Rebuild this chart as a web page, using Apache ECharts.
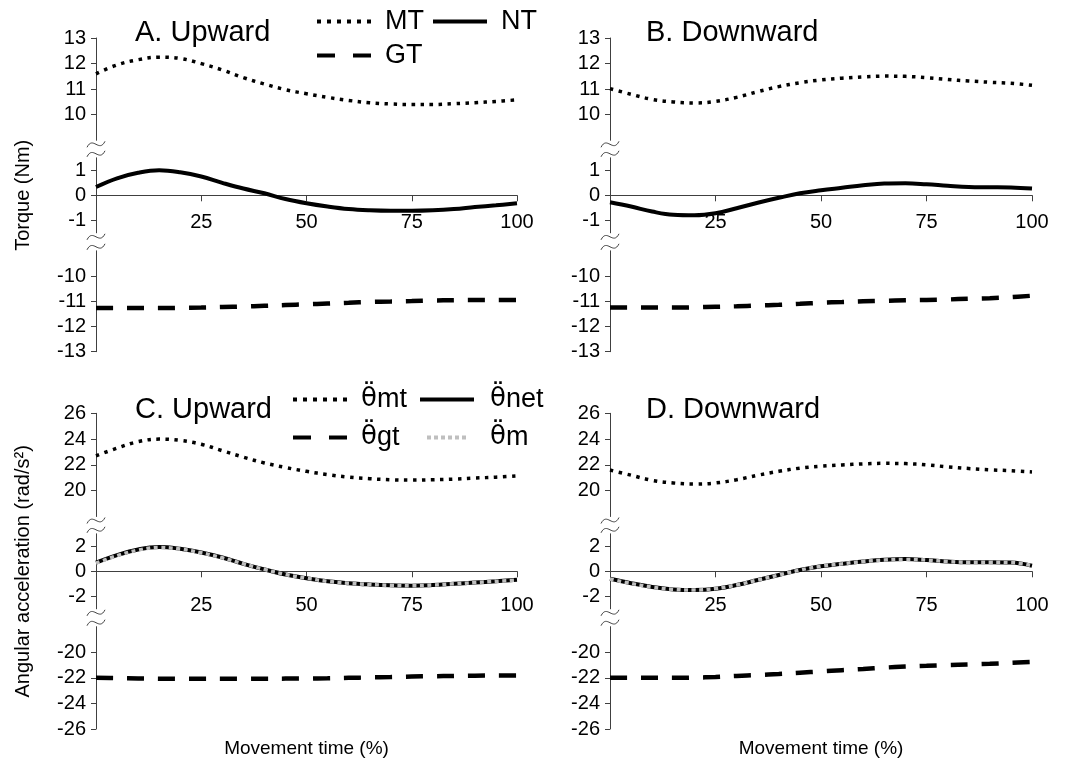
<!DOCTYPE html>
<html><head><meta charset="utf-8">
<script src="https://cdn.jsdelivr.net/npm/echarts@6/dist/echarts.min.js"></script>
<style>html,body{margin:0;padding:0;background:#fff}#c{width:1071px;height:761px}</style>
</head><body><div id="c"></div>
<script>
// ---- data ----
const xPct = [0,5,10,15,20,25,30,35,40,45,50,55,60,65,70,75,80,85,90,95,100];
const xTicks = [25,50,75,100];
const torqueTopTicks = [10,11,12,13];
const torqueMidTicks = [-1,0,1];
const torqueBotTicks = [-13,-12,-11,-10];
const accTopTicks = [20,22,24,26];
const accMidTicks = [-2,0,2];
const accBotTicks = [-26,-24,-22,-20];

const mtUp = [11.6,11.95,12.15,12.25,12.2,12.0,11.75,11.45,11.2,10.98,10.82,10.68,10.56,10.47,10.42,10.4,10.4,10.43,10.47,10.52,10.58];
const ntUp = [0.33,0.68,0.9,1.0,0.92,0.75,0.5,0.27,0.08,-0.15,-0.32,-0.45,-0.55,-0.6,-0.62,-0.62,-0.6,-0.55,-0.47,-0.4,-0.32];
const gtUp = [-11.27,-11.27,-11.27,-11.27,-11.26,-11.25,-11.23,-11.21,-11.18,-11.15,-11.12,-11.09,-11.06,-11.03,-11.01,-10.99,-10.97,-10.96,-10.95,-10.95,-10.95];

const mtDown = [11.02,10.8,10.6,10.5,10.46,10.52,10.68,10.9,11.1,11.25,11.36,11.43,11.48,11.51,11.5,11.45,11.38,11.32,11.27,11.23,11.15];
const ntDown = [-0.28,-0.45,-0.65,-0.78,-0.8,-0.72,-0.52,-0.3,-0.1,0.08,0.2,0.3,0.4,0.47,0.48,0.44,0.38,0.33,0.32,0.31,0.27];
const gtDown = [-11.25,-11.25,-11.25,-11.25,-11.24,-11.22,-11.2,-11.17,-11.14,-11.1,-11.06,-11.03,-11.0,-10.98,-10.96,-10.95,-10.93,-10.9,-10.88,-10.84,-10.78];

const accMtUp = [22.7,23.3,23.8,24.0,23.9,23.6,23.1,22.6,22.15,21.8,21.5,21.25,21.05,20.93,20.85,20.82,20.85,20.9,20.98,21.05,21.15];
const accNetUp = [0.7,1.3,1.75,1.95,1.8,1.5,1.1,0.6,0.15,-0.25,-0.55,-0.8,-0.95,-1.05,-1.12,-1.15,-1.1,-1.0,-0.9,-0.8,-0.68];
const accGtUp = [-22.0,-22.02,-22.05,-22.07,-22.08,-22.08,-22.08,-22.08,-22.07,-22.06,-22.05,-22.03,-22.0,-21.97,-21.94,-21.9,-21.87,-21.85,-21.83,-21.82,-21.82];
const accMUp = [0.65,1.25,1.7,1.9,1.78,1.48,1.08,0.6,0.15,-0.25,-0.55,-0.8,-0.95,-1.05,-1.12,-1.15,-1.1,-1.0,-0.9,-0.8,-0.7];

const accMtDown = [21.6,21.2,20.8,20.6,20.52,20.6,20.85,21.2,21.5,21.75,21.9,22.0,22.08,22.12,22.1,22.0,21.85,21.72,21.62,21.55,21.45];
const accNetDown = [-0.6,-0.95,-1.25,-1.45,-1.5,-1.4,-1.1,-0.7,-0.3,0.1,0.4,0.6,0.78,0.92,0.98,0.9,0.78,0.72,0.72,0.7,0.45];
const accGtDown = [-22.0,-22.0,-22.0,-22.0,-21.98,-21.93,-21.85,-21.78,-21.7,-21.6,-21.5,-21.4,-21.3,-21.2,-21.12,-21.06,-21.0,-20.95,-20.9,-20.82,-20.75];
const accMDown = [-0.62,-0.97,-1.27,-1.45,-1.5,-1.38,-1.1,-0.7,-0.3,0.1,0.4,0.6,0.78,0.9,0.95,0.9,0.78,0.72,0.72,0.7,0.45];

// ---- layout & styles ----
const FONT = 'Liberation Sans, Arial, sans-serif';
const AX = '#404040';
const styles = {
  dot:   {color:'#000', width:3.5, type:[3.5,5.5], cap:'butt'},
  solid: {color:'#000', width:4, type:'solid'},
  dash:  {color:'#000', width:4.5, type:[17,14], cap:'butt'},
  gray:  {color:'#bfbfbf', width:3.5, type:[4,3.5], cap:'butt'}
};
const torqueSecs = [
  {top:38, h:102.3, min:9, max:13, ticks:torqueTopTicks},
  {top:157.8, h:75, min:-1.5, max:1.5, ticks:torqueMidTicks},
  {top:250.8, h:100.9, min:-13, max:-9, ticks:torqueBotTicks}
];
const accSecs = [
  {top:413.3, h:103.2, min:18, max:26, ticks:accTopTicks},
  {top:533.8, h:75, min:-3, max:3, ticks:accMidTicks},
  {top:626.7, h:102.3, min:-26, max:-18, ticks:accBotTicks}
];
const TH = '\u03b8\u0308';
const panels = [
  {left:96, width:421, secs:torqueSecs, yName:'Torque (Nm)', xName:null, xLabelMargin:17,
   lines:[[0,'MT',mtUp,'dot'],[1,'NT',ntUp,'solid'],[2,'GT',gtUp,'dash']]},
  {left:610, width:422, secs:torqueSecs, yName:null, xName:null, xLabelMargin:17,
   lines:[[0,'MT',mtDown,'dot'],[1,'NT',ntDown,'solid'],[2,'GT',gtDown,'dash']]},
  {left:96, width:421, secs:accSecs, yName:'Angular acceleration (rad/s\u00b2)', xName:'Movement time (%)', xLabelMargin:24,
   lines:[[0,TH+'mt',accMtUp,'dot'],[1,TH+'net',accNetUp,'solid'],[2,TH+'gt',accGtUp,'dash'],[1,TH+'m',accMUp,'gray']]},
  {left:610, width:422, secs:accSecs, yName:null, xName:'Movement time (%)', xLabelMargin:24,
   lines:[[0,TH+'mt',accMtDown,'dot'],[1,TH+'net',accNetDown,'solid'],[2,TH+'gt',accGtDown,'dash'],[1,TH+'m',accMDown,'gray']]}
];

const grid=[], xAxis=[], yAxis=[], series=[], graphic=[];
panels.forEach((p, pi) => {
  p.secs.forEach((s, si) => {
    const gi = pi*3+si;
    grid.push({left:p.left, top:s.top, width:p.width, height:s.h});
    const xa = {type:'value', gridIndex:gi, min:0, max:100, splitLine:{show:false}};
    if (si === 1) {
      Object.assign(xa, {
        position:'bottom', offset:-s.h/2,
        axisLine:{show:true, onZero:false, lineStyle:{color:AX, width:1}},
        axisTick:{show:true, length:6, customValues:xTicks, lineStyle:{color:AX}},
        axisLabel:{show:true, customValues:xTicks, margin:p.xLabelMargin, color:'#000', fontSize:20, fontFamily:FONT}
      });
    } else if (si === 2 && p.xName) {
      Object.assign(xa, {
        axisLine:{show:false}, axisTick:{show:false}, axisLabel:{show:false},
        name:p.xName, nameLocation:'middle', nameGap:10,
        nameTextStyle:{color:'#000', fontSize:19, fontFamily:FONT}
      });
    } else {
      xa.show = false;
    }
    xAxis.push(xa);
    const ya = {type:'value', gridIndex:gi, min:s.min, max:s.max, splitLine:{show:false},
      axisLine:{show:true, lineStyle:{color:AX, width:1}},
      axisTick:{show:true, length:5, customValues:s.ticks, lineStyle:{color:AX}},
      axisLabel:{show:true, customValues:s.ticks, margin:10, color:'#000', fontSize:20, fontFamily:FONT}
    };
    if (si === 1 && p.yName) {
      Object.assign(ya, {name:p.yName, nameLocation:'middle', nameRotate:90, nameGap:63,
        nameTextStyle:{color:'#000', fontSize:20, fontFamily:FONT}});
    }
    yAxis.push(ya);
  });
  p.lines.forEach(([si, name, vals, st]) => {
    const gi = pi*3+si;
    series.push({type:'line', name:name, xAxisIndex:gi, yAxisIndex:gi, symbol:'none', smooth:0.4,
      color:styles[st].color, silent:true,
      lineStyle:styles[st], data:xPct.map((x,i)=>[x, vals[i]])});
  });
  const ax = p.left;
  for (let k=0;k<2;k++){
    const gTop = p.secs[k].top + p.secs[k].h;
    const gBot = p.secs[k+1].top;
    [gTop+4, gBot-4].forEach(y => {
      graphic.push({type:'bezierCurve', silent:true, z:100,
        shape:{x1:ax-9,y1:y+3,cpx1:ax-3,cpy1:y-9,cpx2:ax+3,cpy2:y+9,x2:ax+9,y2:y-3},
        style:{stroke:AX, lineWidth:1, fill:'none'}});
    });
  }
});

const titleStyle = {color:'#000', fontSize:29, fontWeight:'normal', fontFamily:FONT};
const title = [
  {text:'A. Upward', left:135, top:18, padding:0, textStyle:titleStyle},
  {text:'B. Downward', left:646, top:18, padding:0, textStyle:titleStyle},
  {text:'C. Upward', left:135, top:395, padding:0, textStyle:titleStyle},
  {text:'D. Downward', left:646, top:395, padding:0, textStyle:titleStyle}
];

const icons = {
  dot: 'path://M0,0h4v4h-4z M10,0h4v4h-4z M20,0h4v4h-4z M30,0h4v4h-4z M40,0h4v4h-4z M50,0h4v4h-4z',
  solid: 'path://M0,0h54v4h-54z',
  dash: 'path://M0,0h18v4h-18z M36,0h18v4h-18z',
  gray: 'path://M0,0h4v4h-4z M7,0h4v4h-4z M14,0h4v4h-4z M21,0h4v4h-4z M28,0h4v4h-4z M35,0h4v4h-4z'
};
const rich = {
  th: {fontFamily:'DejaVu Sans', fontSize:26, color:'#000'},
  s:  {fontFamily:FONT, fontSize:27, color:'#000'}
};
function leg(name, st, left, top, w, pad){
  const o = {data:[{name:name, icon:icons[st], itemStyle:{color:styles[st].color}}], left:left, top:top, padding:0,
    itemWidth:w, itemHeight:4, selectedMode:false,
    textStyle:{color:'#000', fontSize:27, fontFamily:FONT, padding:[0,0,0,pad]}};
  if (name.indexOf(TH) === 0) {
    o.formatter = n => '{th|' + TH + '}{s|' + n.slice(TH.length) + '}';
    o.textStyle.rich = rich;
  }
  return o;
}
const legend = [
  leg('MT','dot',317,8,54,9), leg('NT','solid',433,8,54,9), leg('GT','dash',317,42,54,9),
  leg(TH+'mt','dot',293,386,54,9), leg(TH+'net','solid',420,386,54,11),
  leg(TH+'gt','dash',293,424,54,9), leg(TH+'m','gray',427,424,39,19)
];

const chart = echarts.init(document.getElementById('c'), null, {renderer:'canvas'});
chart.setOption({backgroundColor:'#fff', animation:false, title, legend, grid, xAxis, yAxis, series, graphic});
</script></body></html>
